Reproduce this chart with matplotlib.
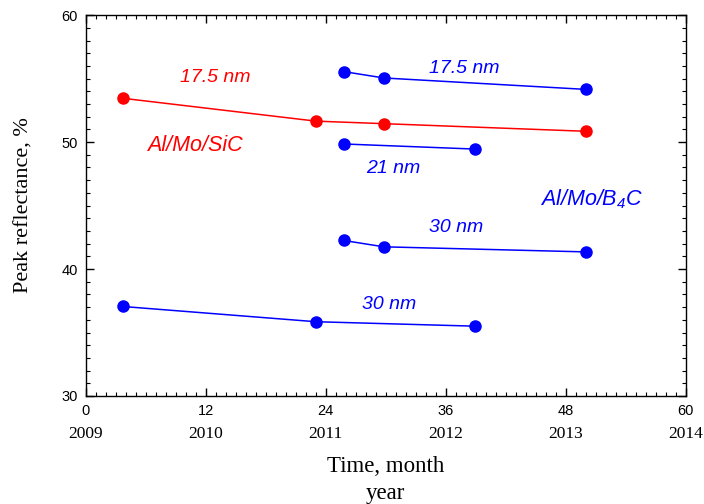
import matplotlib
matplotlib.use("Agg")
import matplotlib.pyplot as plt
from matplotlib.ticker import MultipleLocator
from matplotlib.transforms import blended_transform_factory

# Datos (meses desde 2009, reflectancia pico en %)
sic_175_t = [3.7, 23.0, 29.8, 50.0]
sic_175_r = [53.45, 51.65, 51.45, 50.85]

b4c_175_t = [25.8, 29.8, 50.0]
b4c_175_r = [55.55, 55.05, 54.15]

b4c_21_t = [25.8, 38.9]
b4c_21_r = [49.85, 49.45]

b4c_30a_t = [25.8, 29.8, 50.0]
b4c_30a_r = [42.25, 41.75, 41.35]

b4c_30b_t = [3.7, 23.0, 38.9]
b4c_30b_r = [37.05, 35.85, 35.5]

month_ticks = [0, 12, 24, 36, 48, 60]
year_labels = ["2009", "2010", "2011", "2012", "2013", "2014"]
refl_ticks = [30, 40, 50, 60]

plt.rcParams['mathtext.fontset'] = 'custom'
plt.rcParams['mathtext.rm'] = 'Liberation Sans:italic'
plt.rcParams['mathtext.it'] = 'Liberation Sans:italic'

fig = plt.figure(figsize=(7.04, 5.04), dpi=100)
ax = fig.add_axes([0.122, 0.2143, 0.852, 0.7557])

red = '#ff0000'
blue = '#0000ff'
kw = dict(marker='o', markersize=8, linewidth=1.1)
ax.plot(sic_175_t, sic_175_r, color=red, **kw)
ax.plot(b4c_175_t, b4c_175_r, color=blue, **kw)
ax.plot(b4c_21_t, b4c_21_r, color=blue, **kw)
ax.plot(b4c_30a_t, b4c_30a_r, color=blue, **kw)
ax.plot(b4c_30b_t, b4c_30b_r, color=blue, **kw)

ax.set_xlim(0, 60)
ax.set_ylim(30, 60)
ax.set_xticks(month_ticks)
ax.set_yticks(refl_ticks)
ax.xaxis.set_minor_locator(MultipleLocator(1))
ax.yaxis.set_minor_locator(MultipleLocator(1))
ax.tick_params(which='both', direction='in', top=True, right=True)
ax.tick_params(which='major', length=6, width=1, labelsize=10.5, pad=6)
ax.tick_params(which='minor', length=3, width=0.8)
for lab in ax.get_xticklabels() + ax.get_yticklabels():
    lab.set_family('Liberation Sans')
for s in ax.spines.values():
    s.set_linewidth(1)

# Etiquetas de años debajo de los meses
trans = blended_transform_factory(ax.transData, ax.transAxes)
for m, y in zip(month_ticks, year_labels):
    ax.text(m, -0.1, y, transform=trans, ha='center', va='center',
            family='Liberation Serif', fontsize=12.5)

ax.text(0.5, -0.185, 'Time, month', transform=ax.transAxes, ha='center',
        va='center', family='Liberation Serif', fontsize=16.5)
ax.text(0.5, -0.255, 'year', transform=ax.transAxes, ha='center',
        va='center', family='Liberation Serif', fontsize=16.5)
ax.set_ylabel('Peak reflectance, %', family='Liberation Serif', fontsize=16,
              labelpad=20)

# Anotaciones
tk = dict(family='Liberation Sans', style='italic', fontsize=14,
          ha='center', va='center')
tk_big = dict(tk, fontsize=15.5)
ax.text(12.9, 55.1, '17.5 nm', color=red, **tk)
ax.text(10.9, 49.7, 'Al/Mo/SiC', color=red, **tk_big)
ax.text(37.8, 55.8, '17.5 nm', color=blue, **tk)
ax.text(30.7, 47.9, '21 nm', color=blue, **tk)
ax.text(50.6, 45.5, r'Al/Mo/B$_4$C', color=blue, **tk_big)
ax.text(37.0, 43.3, '30 nm', color=blue, **tk)
ax.text(30.3, 37.2, '30 nm', color=blue, **tk)

fig.savefig('out.png', dpi=100)
